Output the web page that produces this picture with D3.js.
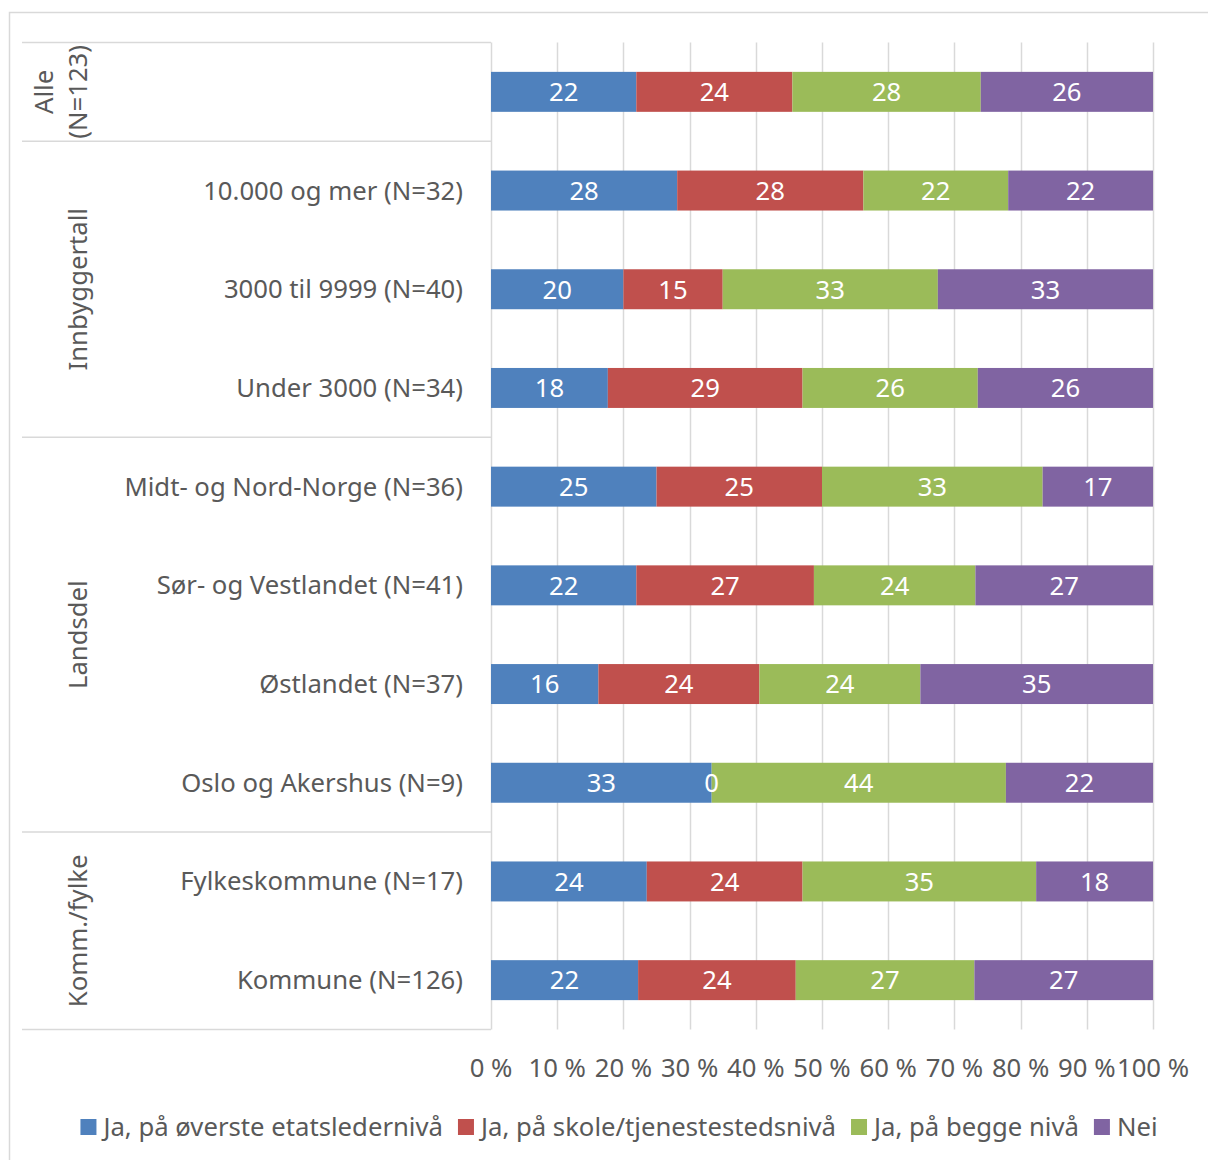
<!DOCTYPE html>
<html>
<head>
<meta charset="utf-8">
<script src="https://cdn.jsdelivr.net/npm/d3@7"></script>
<style>
  html, body { margin: 0; padding: 0; background: #fff; }
  svg { display: block; font-family: "Noto Sans", "Open Sans", sans-serif; }
</style>
</head>
<body>
<svg id="chart" width="1208" height="1160"></svg>
<script>
// ---- data ----
const rowLabels = ["", "10.000 og mer (N=32)", "3000 til 9999 (N=40)", "Under 3000 (N=34)",
  "Midt- og Nord-Norge (N=36)", "Sør- og Vestlandet (N=41)", "Østlandet (N=37)", "Oslo og Akershus (N=9)",
  "Fylkeskommune (N=17)", "Kommune (N=126)"];
const groupNames = [["Alle", "(N=123)"], ["Innbyggertall"], ["Landsdel"], ["Komm./fylke"]];
const groupSizes = [1, 3, 4, 2];
const seriesNames = ["Ja, på øverste etatsledernivå", "Ja, på skole/tjenestestedsnivå", "Ja, på begge nivå", "Nei"];
const seriesColors = ["#4F81BD", "#C0504D", "#9BBB59", "#8064A2"];
const overstEtat = [21.95, 28.13, 20.00, 17.65, 25.00, 21.95, 16.22, 33.33, 23.53, 22.22];
const skoleNiva  = [23.58, 28.13, 15.00, 29.41, 25.00, 26.83, 24.32, 0.00, 23.53, 23.81];
const beggeNiva  = [28.46, 21.88, 32.50, 26.47, 33.33, 24.39, 24.32, 44.44, 35.29, 26.98];
const nei        = [26.02, 21.88, 32.50, 26.47, 16.67, 26.83, 35.14, 22.22, 17.65, 26.98];
const tickValues = [0, 0.1, 0.2, 0.3, 0.4, 0.5, 0.6, 0.7, 0.8, 0.9, 1.0];

// ---- build table ----
const keys = ["a", "b", "c", "d"];
const rows = rowLabels.map((l, i) => ({ id: i, label: l, a: overstEtat[i], b: skoleNiva[i], c: beggeNiva[i], d: nei[i] }));
const stacked = d3.stack().keys(keys).offset(d3.stackOffsetExpand)(rows);

const svg = d3.select("#chart");
const textColor = "#595959";
const gridColor = "#d9d9d9";
const fs = 25.7;

// outer border
svg.append("rect").attr("x", 9.5).attr("y", 12.5).attr("width", 1220).attr("height", 1170)
  .attr("fill", "none").attr("stroke", gridColor).attr("stroke-width", 1.5);

const x = d3.scaleLinear().domain([0, 1]).range([491, 1153]);
const y = d3.scaleBand().domain(rows.map(r => r.id)).range([42.5, 1029.5])
  .paddingInner(0.595).paddingOuter(0.2975);
const step = y.step();
const yTop = y.range()[0], yBottom = y.range()[1];

// vertical gridlines
svg.append("g").selectAll("line").data(tickValues).join("line")
  .attr("x1", d => Math.round(x(d)) + 0.5).attr("x2", d => Math.round(x(d)) + 0.5)
  .attr("y1", yTop).attr("y2", yBottom)
  .attr("stroke", gridColor).attr("stroke-width", 1.5);

// category axis structure: group separators
let acc = 0;
const bounds = [0];
groupSizes.forEach(s => { acc += s; bounds.push(acc); });
svg.append("g").selectAll("line").data(bounds).join("line")
  .attr("x1", 22).attr("x2", 491)
  .attr("y1", d => yTop + step * d).attr("y2", d => yTop + step * d)
  .attr("stroke", gridColor).attr("stroke-width", 1.5);

// group labels (rotated)
const gl = svg.append("g").attr("fill", textColor).attr("font-size", fs);
groupNames.forEach((lines, gi) => {
  const cy = yTop + step * (bounds[gi] + bounds[gi + 1]) / 2;
  const xs = lines.length === 2 ? [44, 78] : [78];
  lines.forEach((t, li) => {
    gl.append("text")
      .attr("transform", `translate(${xs[li]},${cy}) rotate(-90)`)
      .attr("text-anchor", "middle").attr("dy", "0.35em").text(t);
  });
});

// row labels
svg.append("g").selectAll("text").data(rows).join("text")
  .attr("x", 463).attr("y", d => y(d.id) + y.bandwidth() / 2)
  .attr("dy", "0.35em").attr("text-anchor", "end")
  .attr("fill", textColor).attr("font-size", fs).text(d => d.label);

// bars
const layers = svg.append("g").selectAll("g").data(stacked).join("g")
  .attr("fill", (d, i) => seriesColors[i]);
layers.selectAll("rect").data(d => d).join("rect")
  .attr("x", d => x(d[0])).attr("width", d => x(d[1]) - x(d[0]))
  .attr("y", d => y(d.data.id)).attr("height", y.bandwidth());

// bar labels
const lbl = svg.append("g").attr("fill", "#fff").attr("font-size", fs).attr("text-anchor", "middle");
stacked.forEach((layer) => {
  layer.forEach(d => {
    lbl.append("text")
      .attr("x", (x(d[0]) + x(d[1])) / 2)
      .attr("y", y(d.data.id) + y.bandwidth() / 2)
      .attr("dy", "0.36em")
      .text(d3.format(".0f")(d.data[layer.key]));
  });
});

// x axis tick labels
svg.append("g").selectAll("text").data(tickValues).join("text")
  .attr("x", d => x(d)).attr("y", 1068).attr("dy", "0.35em")
  .attr("text-anchor", "middle").attr("fill", textColor).attr("font-size", fs)
  .text(d => Math.round(d * 100) + " %");

// legend
const lg = svg.append("g");
const items = lg.selectAll("g").data(seriesNames).join("g");
items.append("rect").attr("width", 16).attr("height", 16).attr("y", 1119)
  .attr("fill", (d, i) => seriesColors[i]);
items.append("text").attr("x", 23).attr("y", 1127).attr("dy", "0.35em")
  .attr("fill", textColor).attr("font-size", fs).text(d => d);
let lx = 0;
const offs = [];
items.each(function () {
  offs.push(lx);
  const w = d3.select(this).select("text").node().getComputedTextLength();
  lx += 23 + w + 15;
});
const total = lx - 15;
const startX = 619 - total / 2;
items.attr("transform", (d, i) => `translate(${startX + offs[i]},0)`);
</script>
</body>
</html>
